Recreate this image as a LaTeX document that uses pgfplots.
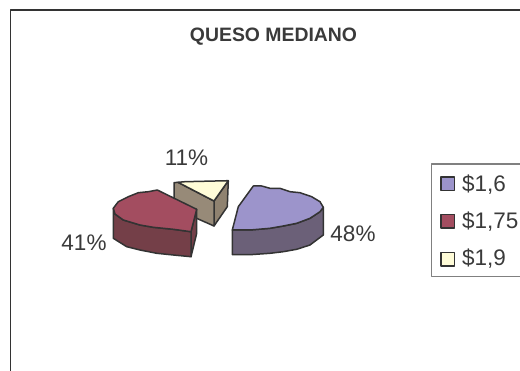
\documentclass[border=0pt]{standalone}
\usepackage{pgfplots}
\pgfplotsset{compat=1.18}
\usepackage{fontspec}
\setmainfont{Liberation Sans}
\definecolor{ln}{HTML}{333333}
\definecolor{txt}{HTML}{3A3A3A}
\definecolor{btop}{HTML}{9C94CB}
\definecolor{bside}{HTML}{6B6078}
\definecolor{rtop}{HTML}{A34D60}
\definecolor{rside}{HTML}{743F48}
\definecolor{ytop}{HTML}{FFFCD8}
\definecolor{yside}{HTML}{978A78}
\definecolor{yside2}{HTML}{8F8270}
\begin{document}
\begin{tikzpicture}[x=1pt,y=1pt]
\begin{axis}[
  scale only axis,width=520pt,height=371pt,
  xmin=0,xmax=520,ymin=0,ymax=371,y dir=reverse,
  hide axis,clip=true,
  every axis plot/.append style={draw=ln,line width=1.5pt,line join=round},
]
\addplot[draw=none,forget plot] coordinates {(0,0)(520,371)};
% frame
\addplot[draw=ln,line width=1.8pt] coordinates {(10.5,371)(10.5,10)(520,10)};
% blue side
\addplot[fill=bside] coordinates {(323.3,207.3)(323.3,235)(310,245)(296.7,249.3)(283.3,251.7)(270,253.3)(250,254.7)(232.3,254.7)(232.3,230)(250,230)(270,228.3)(283.3,226)(296.7,223.3)(310,218.3)(320,211.7)} -- cycle;
% blue top
\addplot[fill=btop] coordinates {(253.3,186)(261.7,186)(270,188.3)(280,188.3)(290,191.7)(300,192.7)(311.7,196.7)(320,201.7)(323.3,207.3)(320,211.7)(310,218.3)(296.7,223.3)(283.3,226)(270,228.3)(250,230)(232.3,230)(238.3,206.7)} -- cycle;
% yellow sides
\addplot[fill=yside2] coordinates {(228.3,180.7)(214,201)(214,226)(227.3,206.7)} -- cycle;
\addplot[fill=yside] coordinates {(174,182.7)(178,182.3)(214,201)(214,226)(174,208.3)} -- cycle;
\addplot[fill=ytop] coordinates {(178,182.3)(185,181.7)(228.3,180.7)(214,201)} -- cycle;
% red sides
\addplot[fill=rside] coordinates {(196.7,209.3)(196.7,233.3)(191,256.7)(191,231.7)} -- cycle;
\addplot[fill=rside] coordinates {(113.3,208.3)(113.3,238.3)(126.7,246.7)(140,250)(156.7,253.3)(173.3,255)(191,256.7)(191,231.7)(173.3,229.3)(153.3,227.3)(140,225)(123.3,220)(115,214)} -- cycle;
% red top
\addplot[fill=rtop] coordinates {(113.3,208.3)(118.3,201.7)(128.3,196.7)(138.3,192.7)(148.3,191.7)(157.3,190)(196.7,209.3)(191,231.7)(173.3,229.3)(153.3,227.3)(140,225)(123.3,220)(115,214)} -- cycle;
% legend
\addplot[draw=gray,line width=1.3pt] coordinates {(520,164)(431.7,164)(431.7,276.7)(520,276.7)};
\addplot[fill=btop,line width=1.2pt] coordinates {(441,177)(454.5,177)(454.5,190.5)(441,190.5)} -- cycle;
\addplot[fill=rtop,line width=1.2pt] coordinates {(441,214.5)(454.5,214.5)(454.5,228)(441,228)} -- cycle;
\addplot[fill=ytop,line width=1.2pt] coordinates {(441,252.5)(454.5,252.5)(454.5,266)(441,266)} -- cycle;
% texts
\node[txt,font=\bfseries\fontsize{19.4}{22}\selectfont] at (axis cs:273.5,36.5) {QUESO MEDIANO};
\node[txt,font=\fontsize{22.5}{26}\selectfont] at (axis cs:186.5,158) {11\%};
\node[txt,font=\fontsize{22.5}{26}\selectfont] at (axis cs:84,243) {41\%};
\node[txt,font=\fontsize{22.5}{26}\selectfont] at (axis cs:353,234) {48\%};
\node[txt,font=\fontsize{22.5}{26}\selectfont,anchor=west,inner sep=0pt] at (axis cs:462,184.5) {\$1,6};
\node[txt,font=\fontsize{22.5}{26}\selectfont,anchor=west,inner sep=0pt] at (axis cs:462,221.5) {\$1,75};
\node[txt,font=\fontsize{22.5}{26}\selectfont,anchor=west,inner sep=0pt] at (axis cs:462,259) {\$1,9};
\end{axis}
\end{tikzpicture}
\end{document}
